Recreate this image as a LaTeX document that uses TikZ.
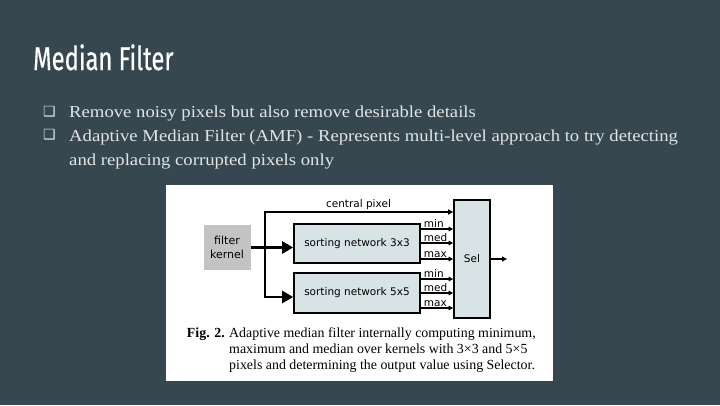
\documentclass[tikz,border=0pt]{standalone}
\usepackage{fontspec}
\usepackage{graphicx}
\setmainfont{Liberation Serif}
\newfontfamily\titlefont[FakeBold=0.6]{Fira Sans}
\newfontfamily\diagfont{DejaVu Sans}
\newfontfamily\bulletfont{DejaVu Sans}
\usetikzlibrary{arrows.meta}
\definecolor{bgslate}{HTML}{37474F}
\definecolor{bodytext}{HTML}{E2E5E7}
\definecolor{boxfill}{HTML}{D8E3E5}
\definecolor{kernelgray}{HTML}{C3C3C3}
\newcommand{\bodywide}[1]{\scalebox{1.12}[1]{#1}}
\begin{document}
\begin{tikzpicture}[x=1pt,y=-1pt,
  bodyline/.style={anchor=base west, inner sep=0pt, text=bodytext, font=\fontsize{16.7}{20}\selectfont},
  bulletmark/.style={anchor=center, inner sep=0pt, text=bodytext, font=\bulletfont\fontsize{14}{14}\selectfont},
  capline/.style={anchor=base west, inner sep=0pt, font=\fontsize{13.9}{15}\selectfont},
  dlabel/.style={inner sep=0pt, font=\diagfont\fontsize{10.5}{12}\selectfont},
  netbox/.style={draw=black, line width=1.6pt, fill=boxfill, inner sep=0pt},
  thickline/.style={line width=2.4pt},
  bigarrow/.style={line width=2.4pt, -{Triangle[length=11pt,width=12pt]}},
  smallarrow/.style={line width=1.1pt, -{Triangle[length=4.5pt,width=4.5pt]}},
  outlbl/.style={dlabel, anchor=base west, xshift=2.5pt, yshift=2pt}
]
\useasboundingbox (0,0) rectangle (720,405);
\fill[bgslate] (0,0) rectangle (720,405);

% title
\node[anchor=base west, inner sep=0pt, text=white] (title) at (33,70)
  {\titlefont\fontsize{33}{36}\selectfont\scalebox{0.72}[1]{Median Filter}};

% bullets
\node[bulletmark] (b1) at (49.5,112) {❑};
\node[bodyline] (t1) at (69,117) {\bodywide{Remove noisy pixels but also remove desirable details}};
\node[bulletmark] (b2) at (49.5,135) {❑};
\node[bodyline] (t2) at (69,141) {\bodywide{Adaptive Median Filter (AMF) - Represents multi-level approach to try detecting}};
\node[bodyline] (t3) at (69,165) {\bodywide{and replacing corrupted pixels only}};

% figure panel
\fill[white] (166,185) rectangle (553,381);

% diagram nodes
\node[fill=kernelgray, minimum width=47pt, minimum height=45pt, inner sep=0pt, dlabel, font=\diagfont\fontsize{11}{14}\selectfont, align=center] (kernel) at (227,247.5) {filter\\kernel};
\node[netbox, minimum width=126pt, minimum height=39pt, dlabel] (s3) at (357,243.5) {sorting network 3x3};
\node[netbox, minimum width=126pt, minimum height=40pt, dlabel] (s5) at (357,293) {sorting network 5x5};
\node[netbox, minimum width=36pt, minimum height=118pt, dlabel] (sel) at (472,259) {Sel};

\coordinate (jt) at (265,212);
\coordinate (jb) at (265,297);
\coordinate (outend) at (507,259);

% connectors from kernel
\draw[bigarrow] (kernel.east) -- (kernel.east -| s3.west);
\draw[thickline] (jt) -- (jb);
\draw[bigarrow] ([xshift=-1.2pt]jb) -- (jb -| s5.west);
\draw[line width=2pt, -{Triangle[length=5pt,width=5pt]}] ([xshift=-1.2pt]jt) -- (jt -| sel.west)
  node[dlabel, midway, anchor=south, yshift=1pt] (cplabel) {central pixel};

% outputs of sorting networks
\draw[smallarrow] ([yshift=14.5pt]s3.east) -- ([yshift=14.5pt]s3.east -| sel.west) node[outlbl, pos=0] (l31) {min};
\draw[smallarrow] ([yshift=0.5pt]s3.east) -- ([yshift=0.5pt]s3.east -| sel.west) node[outlbl, pos=0] (l32) {med};
\draw[smallarrow] ([yshift=-15.5pt]s3.east) -- ([yshift=-15.5pt]s3.east -| sel.west) node[outlbl, pos=0] (l33) {max};
\draw[smallarrow] ([yshift=14pt]s5.east) -- ([yshift=14pt]s5.east -| sel.west) node[outlbl, pos=0] (l51) {min};
\draw[smallarrow] ([yshift=0pt]s5.east) -- ([yshift=0pt]s5.east -| sel.west) node[outlbl, pos=0] (l52) {med};
\draw[smallarrow] ([yshift=-15pt]s5.east) -- ([yshift=-15pt]s5.east -| sel.west) node[outlbl, pos=0] (l53) {max};

% output
\draw[line width=1.3pt, -{Triangle[length=5pt,width=5pt]}] (sel.east) -- (outend);

% caption
\node[anchor=base east, inner sep=0pt, font=\bfseries\fontsize{13.9}{15}\selectfont] (fig) at (225,337) {Fig. 2.};
\node[capline] (c1) at (229,337) {Adaptive median filter internally computing minimum,};
\node[capline] (c2) at (229,353) {maximum and median over kernels with 3×3 and 5×5};
\node[capline] (c3) at (229,369) {pixels and determining the output value using Selector.};
\end{tikzpicture}
\end{document}
